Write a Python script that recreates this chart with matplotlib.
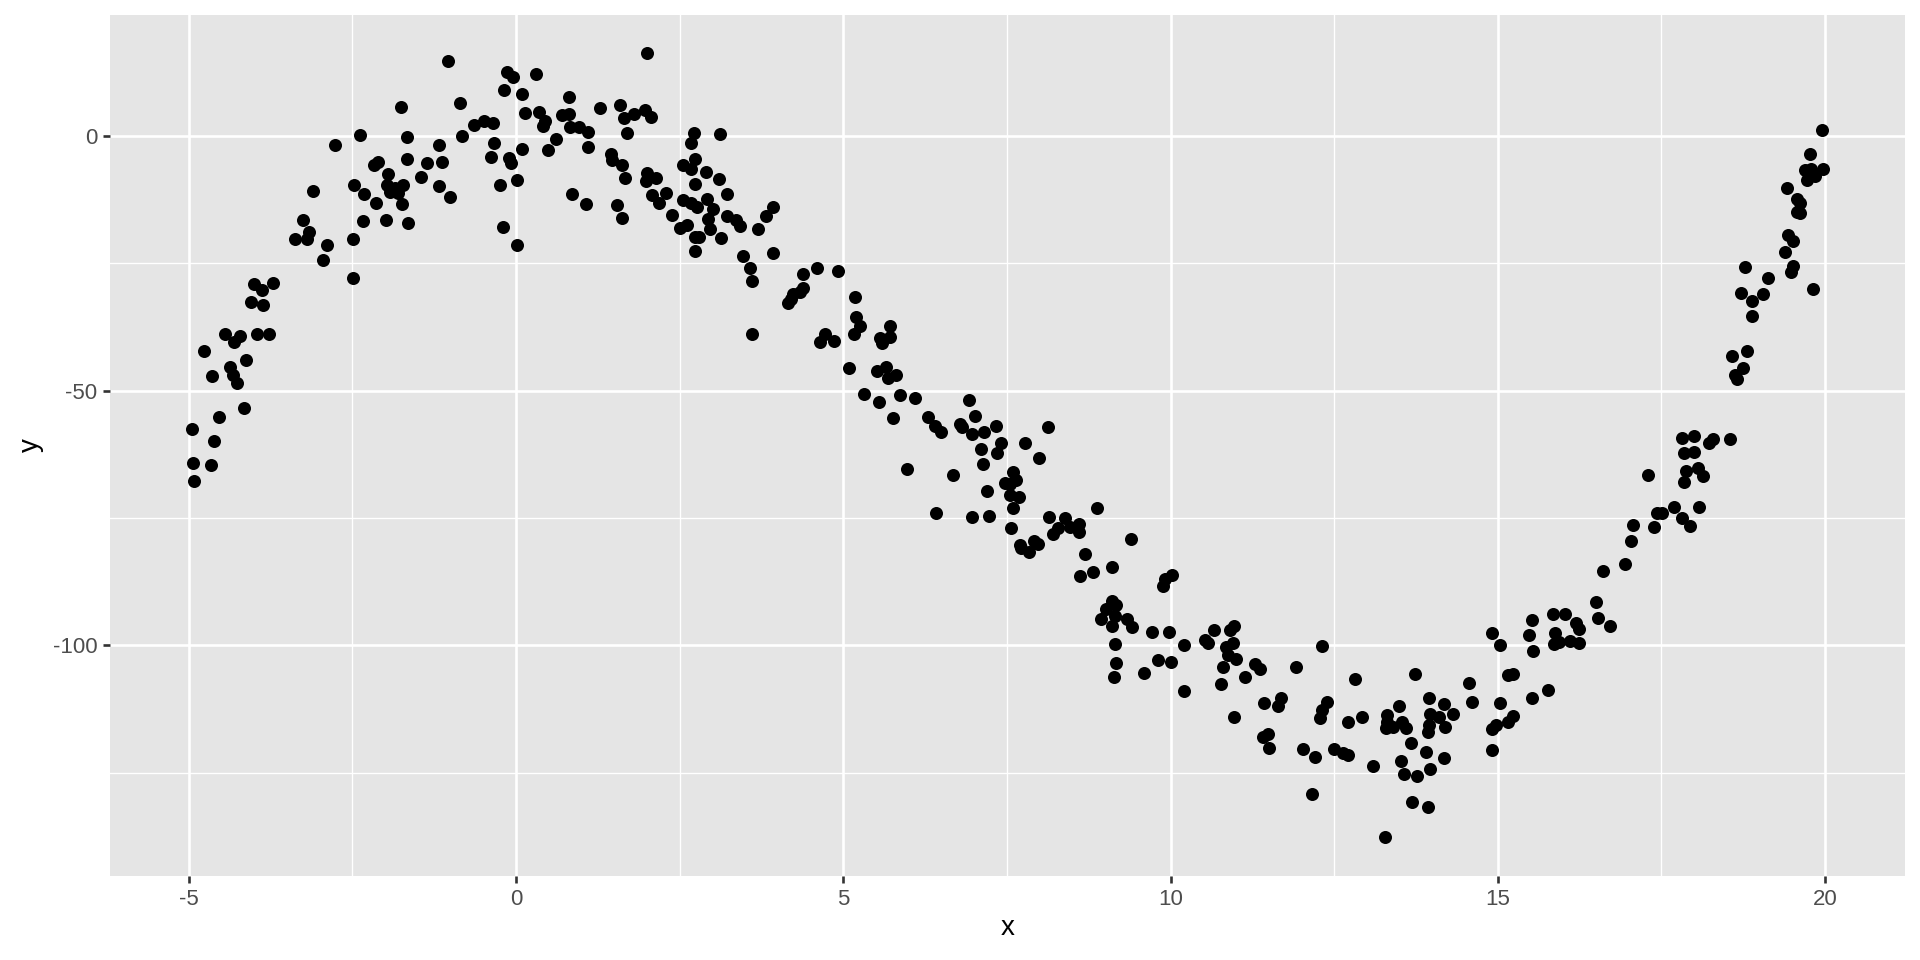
import matplotlib
matplotlib.use("Agg")
import matplotlib.pyplot as plt
import numpy as np

plt.rcParams['font.family'] = ['Liberation Sans', 'DejaVu Sans']

pts = [
# x < -2.5
(-2.76,-1.8),(-3.10,-10.9),(-3.25,-16.6),(-3.16,-18.9),(-3.38,-20.2),(-3.19,-20.2),(-2.88,-21.4),(-2.95,-24.4),
(-4.00,-29.1),(-3.88,-30.3),(-3.71,-28.8),(-4.04,-32.7),(-3.86,-33.1),
(-4.45,-38.8),(-4.22,-39.3),(-4.31,-40.4),(-3.96,-38.8),(-3.77,-38.8),
(-4.77,-42.2),(-4.12,-43.9),(-4.36,-45.4),(-4.64,-47.1),(-4.32,-46.9),(-4.26,-48.6),
(-4.15,-53.4),(-4.53,-55.2),(-4.95,-57.5),(-4.61,-59.9),(-4.93,-64.3),(-4.66,-64.7),(-4.92,-67.7),
# -2.5 .. 0
(-1.04,14.8),(-0.14,12.5),(-0.05,11.5),(-0.18,9.1),(-1.76,5.7),(-0.85,6.5),(-0.64,2.1),(-0.49,3.0),(-0.35,2.5),
(-2.38,0.2),(-1.66,-0.3),(-0.83,0.0),(-1.18,-1.8),(-0.34,-1.3),(-0.38,-4.1),(-0.10,-4.4),
(-2.11,-5.1),(-2.16,-5.8),(-1.66,-4.6),(-1.36,-5.3),(-1.13,-5.1),(-1.95,-7.5),(-1.45,-8.1),
(-2.48,-9.6),(-1.97,-9.6),(-1.85,-10.3),(-1.72,-9.6),(-1.92,-11.0),(-1.80,-11.3),(-1.18,-9.8),
(-2.32,-11.5),(-2.13,-13.1),(-1.74,-13.4),(-1.00,-11.9),(-0.24,-9.7),(0.01,-8.6),
(-2.34,-16.7),(-1.99,-16.6),(-1.65,-17.1),(-0.20,-17.9),(0.01,-21.4),(-2.49,-20.2),(-2.49,-27.8),
# 0 .. 2.5
(2.01,16.2),(0.30,12.2),(0.10,8.2),(0.81,7.6),(0.14,4.5),(0.36,4.7),(0.45,2.9),(0.42,2.0),(0.70,4.1),(0.81,4.4),
(0.83,1.8),(0.97,1.7),(1.10,0.7),(1.28,5.5),(1.59,6.0),(1.65,3.6),(1.80,4.3),(1.97,5.1),(2.07,3.8),(1.70,0.6),
(0.61,-0.7),(0.10,-2.5),(0.49,-2.8),(1.10,-2.1),(-0.07,-5.3),(1.45,-3.5),(1.47,-4.7),(1.62,-5.7),(1.66,-8.2),
(2.00,-7.3),(1.98,-8.8),(2.14,-8.3),(2.08,-11.6),(2.30,-11.2),(2.18,-13.2),(0.86,-11.4),(1.07,-13.4),(1.55,-13.6),
(1.62,-16.2),(2.38,-15.6),
# 2.5 .. 5
(2.72,0.5),(3.12,0.4),(2.68,-1.3),(2.73,-4.5),(2.55,-5.7),(2.67,-6.4),(2.91,-7.1),(3.10,-8.5),(2.73,-9.4),(3.23,-11.5),
(2.56,-12.6),(2.68,-13.2),(2.77,-13.9),(2.92,-12.4),(3.01,-14.3),(3.23,-15.7),(3.36,-16.6),(3.42,-17.6),(2.93,-16.4),
(2.50,-18.0),(2.62,-17.5),(2.96,-18.3),(3.93,-13.9),(3.82,-15.7),(3.70,-18.2),(2.73,-19.8),(2.80,-19.9),(3.13,-20.0),
(2.74,-22.5),(3.47,-23.6),(3.92,-23.0),(3.58,-25.9),(3.61,-28.5),(4.60,-25.9),(4.92,-26.5),(4.39,-27.1),(4.38,-29.8),
(4.34,-30.6),(4.24,-31.1),(4.20,-32.0),(4.15,-32.9),(3.61,-38.9),(4.72,-38.9),(4.64,-40.5),(4.86,-40.3),
# 5 .. 7.5
(5.18,-31.6),(5.20,-35.6),(5.26,-37.3),(5.17,-38.8),(5.72,-37.4),(5.72,-39.4),(5.56,-39.7),(5.59,-40.7),(5.09,-45.6),
(5.52,-46.1),(5.66,-45.3),(5.68,-47.5),(5.81,-46.9),(5.32,-50.7),(5.55,-52.2),(5.87,-50.9),(6.09,-51.4),(5.76,-55.4),
(5.97,-65.3),(6.30,-55.1),(6.40,-56.9),(6.49,-58.1),(6.92,-51.8),(7.02,-55.0),(6.78,-56.6),(6.81,-57.2),(6.97,-58.5),
(7.15,-58.1),(7.34,-56.9),(7.41,-60.3),(7.35,-62.2),(7.11,-61.5),(7.14,-64.5),(6.68,-66.6),(7.19,-69.7),(6.41,-74.1),
(6.96,-74.9),(7.22,-74.6),
# 7.5 .. 10
(8.13,-57.1),(7.77,-60.3),(7.99,-63.2),(7.60,-66.0),(7.64,-67.5),(7.47,-68.2),(7.55,-68.3),(7.55,-70.5),(7.68,-70.8),
(7.59,-73.1),(7.57,-77.0),(8.14,-74.8),(8.87,-73.0),(8.39,-75.1),(8.28,-77.0),(8.20,-78.2),(8.46,-76.7),(8.60,-76.1),
(8.60,-77.7),(7.70,-80.3),(7.71,-81.0),(7.84,-81.6),(7.92,-79.5),(7.97,-80.1),(9.39,-79.2),(8.70,-82.1),(8.61,-86.4),
(8.82,-85.7),(9.10,-84.7),(10.03,-86.2),(9.92,-86.9),(9.89,-88.4),(9.11,-91.4),(9.17,-92.1),(9.02,-92.9),(9.15,-94.2),
(8.94,-94.9),(9.11,-96.2),(9.34,-94.9),(9.41,-96.5),(9.72,-97.3),(9.98,-97.3),(9.15,-99.7),(9.16,-103.5),(9.14,-106.3),
(9.81,-102.9),(10.00,-103.2),(9.59,-105.4),
# 10 .. 12.5
(10.21,-99.9),(10.20,-108.9),(10.67,-97.1),(10.53,-99.0),(10.58,-99.6),(10.97,-96.3),(10.91,-97.1),(10.96,-99.6),
(10.84,-100.4),(10.88,-101.9),(11.00,-102.6),(10.80,-104.2),(10.77,-107.7),(11.14,-106.2),(11.29,-103.7),(11.36,-104.7),
(11.91,-104.3),(12.32,-100.1),(10.97,-114.1),(11.43,-111.3),(11.69,-110.4),(11.64,-111.9),(12.39,-111.2),(12.32,-112.7),
(12.28,-114.3),(11.49,-117.4),(11.42,-118.1),(11.50,-120.1),(12.03,-120.3),(12.21,-121.9),(12.49,-120.4),(12.16,-129.2),
# 12.5 .. 15
(14.91,-97.5),(15.03,-99.9),(12.82,-106.7),(13.73,-105.6),(14.56,-107.5),(14.60,-111.1),(12.92,-114.0),(12.71,-115.1),
(13.49,-112.0),(13.30,-113.7),(13.30,-115.0),(13.29,-116.3),(13.40,-116.0),(13.53,-115.1),(13.60,-116.3),(13.95,-110.4),
(14.18,-111.6),(14.32,-113.5),(13.96,-113.5),(14.10,-114.1),(13.95,-115.6),(14.20,-116.0),(13.93,-117.1),(13.68,-119.2),
(13.91,-121.0),(14.18,-122.2),(13.52,-122.8),(13.57,-125.2),(13.76,-125.7),(13.97,-124.2),(13.69,-130.8),(13.94,-131.7),
(13.27,-137.6),(12.63,-121.2),(12.71,-121.5),(13.10,-123.7),(14.91,-116.5),(14.97,-115.6),(15.04,-111.4),(14.91,-120.6),
# 15 .. 17.5
(17.30,-66.6),(17.43,-74.1),(17.51,-74.0),(17.38,-76.7),(17.06,-76.4),(17.04,-79.6),(16.95,-84.1),(16.60,-85.4),
(16.50,-91.6),(16.53,-94.6),(16.71,-96.2),(15.85,-93.9),(16.03,-93.9),(15.52,-95.0),(15.47,-98.0),(15.54,-101.1),
(15.87,-97.6),(15.86,-99.7),(15.93,-99.3),(16.19,-95.6),(16.24,-96.9),(16.10,-99.1),(16.24,-99.5),(15.16,-105.8),
(15.23,-105.7),(15.52,-110.3),(15.77,-108.8),(15.23,-113.8),(15.16,-115.0),
# 17.5 .. 20
(19.95,1.2),(19.77,-3.6),(19.69,-6.6),(19.79,-6.4),(19.96,-6.4),(19.85,-7.9),(19.72,-8.7),(19.41,-10.3),(19.57,-12.3),
(19.62,-13.2),(19.57,-14.9),(19.62,-15.1),(19.44,-19.5),(19.51,-20.6),(19.39,-22.7),(19.51,-25.5),(19.48,-26.8),
(19.81,-30.1),(18.78,-25.7),(19.13,-27.8),(18.72,-30.8),(18.88,-32.4),(19.05,-31.1),(18.88,-35.3),(18.81,-42.2),
(18.58,-43.2),(18.74,-45.5),(18.63,-46.9),(18.65,-47.8),(17.81,-59.4),(18.00,-58.9),(18.22,-60.3),(18.28,-59.6),
(18.54,-59.6),(17.84,-62.2),(17.99,-62.0),(17.87,-65.7),(18.05,-65.1),(18.14,-66.8),(17.84,-67.9),(17.69,-72.8),
(18.07,-72.8),(17.81,-75.1),(17.94,-76.5),
]
x_vals = [p[0] for p in pts]
y_vals = [p[1] for p in pts]

x_ticks = [-5, 0, 5, 10, 15, 20]
x_labels = ["-5", "0", "5", "10", "15", "20"]
y_ticks = [-100, -50, 0]
y_labels = ["-100", "-50", "0"]
x_minor = [-2.5, 2.5, 7.5, 12.5, 17.5]
y_minor = [-125, -75, -25]

fig = plt.figure(figsize=(9.6, 4.8), dpi=200)
ax = fig.add_axes([0.0573, 0.0875, 0.9349, 0.8972])
ax.set_facecolor('#E5E5E5')
for s in ax.spines.values():
    s.set_visible(False)

ax.set_xlim(-6.2, 21.22)
ax.set_ylim(-145.3, 23.8)
ax.set_xticks(x_ticks)
ax.set_xticklabels(x_labels)
ax.set_yticks(y_ticks)
ax.set_yticklabels(y_labels)
ax.set_xticks(x_minor, minor=True)
ax.set_yticks(y_minor, minor=True)
ax.grid(True, which='major', color='white', linewidth=0.95)
ax.grid(True, which='minor', color='white', linewidth=0.48)
ax.set_axisbelow(True)
ax.tick_params(which='major', length=2.6, width=0.95, color='#333333',
               labelcolor='#4D4D4D', labelsize=8, pad=2.0)
ax.tick_params(which='minor', length=0)

ax.scatter(x_vals, y_vals, s=22, color='black', linewidths=0, zorder=3)

ax.set_xlabel('x', fontsize=10, color='black', labelpad=2)
ax.set_ylabel('y', fontsize=10, color='black', labelpad=3)

fig.savefig('out.png', dpi=200)
